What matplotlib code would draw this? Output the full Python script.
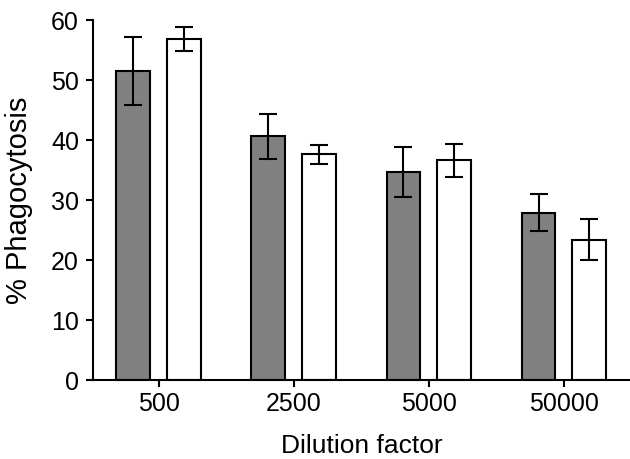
import matplotlib
matplotlib.use("Agg")
import matplotlib.pyplot as plt
import numpy as np

categories = ["500", "2500", "5000", "50000"]
grey_vals = [51.5, 40.6, 34.7, 27.9]
grey_err = [5.7, 3.8, 4.2, 3.1]
white_vals = [56.9, 37.6, 36.6, 23.4]
white_err = [2.0, 1.6, 2.8, 3.4]

plt.rcParams['font.family'] = ['Liberation Sans', 'DejaVu Sans']

fig = plt.figure(figsize=(6.3, 4.59), dpi=100)
ax = fig.add_axes([93/630, 79/459, 537/630, 360/459])

x = np.arange(len(categories))
w = 0.25
off = 0.187
lw = 1.5
ekw = dict(elinewidth=lw, capthick=lw, ecolor='black')
ax.bar(x - off, grey_vals, w, color='#808080', edgecolor='black', linewidth=lw,
       yerr=grey_err, capsize=6.8, error_kw=ekw, zorder=2)
ax.bar(x + off, white_vals, w, color='white', edgecolor='black', linewidth=lw,
       yerr=white_err, capsize=6.8, error_kw=ekw, zorder=2)

ax.set_xlim(-0.485, 3.49)
ax.set_ylim(0, 60)
ax.set_yticks(range(0, 61, 10))
ax.set_xticks(x)
ax.set_xticklabels(categories)
for s in ['top', 'right']:
    ax.spines[s].set_visible(False)
for s in ['left', 'bottom']:
    ax.spines[s].set_linewidth(lw)
ax.tick_params(axis='both', direction='out', length=5, width=lw, labelsize=18)
ax.tick_params(axis='y', pad=5)
ax.set_ylabel("% Phagocytosis", fontsize=21)
ax.set_xlabel("Dilution factor", fontsize=19)
ax.yaxis.set_label_coords(-0.112, 0.5)
ax.xaxis.set_label_coords(0.5, -0.15)

fig.savefig("out.png", dpi=100)
